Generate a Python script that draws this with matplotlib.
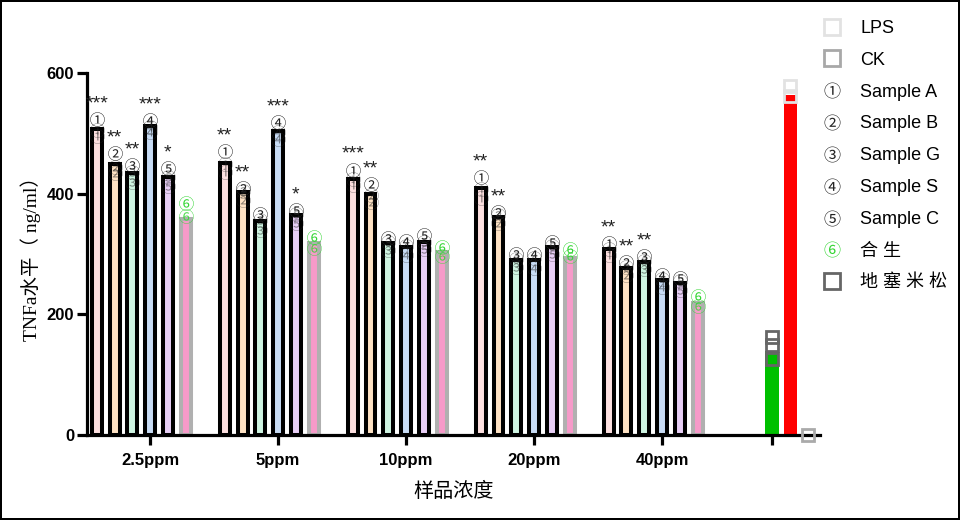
import numpy as np
import matplotlib
matplotlib.use('Agg')
import matplotlib.pyplot as plt
from matplotlib.textpath import TextPath
from matplotlib.font_manager import FontProperties
from matplotlib.path import Path
from matplotlib.lines import Line2D

# ---------------- data ----------------
groups = ['2.5ppm', '5ppm', '10ppm', '20ppm', '40ppm']
series_names = ['Sample A', 'Sample B', 'Sample G', 'Sample S', 'Sample C', '合 生']
series_glyphs = ['①', '②', '③', '④', '⑤', '⑥']

sample_a = [508, 451, 425, 409, 308]
sample_b = [449, 402, 400, 362, 276]
sample_g = [434, 354, 318, 290, 287]
sample_s = [512, 504, 311, 290, 257]
sample_c = [427, 364, 320, 311, 252]
hesheng = [358, 318, 304, 293, 218]

pts_a = [[523, 505, 496], [470, 450, 436], [440, 424, 414], [428, 408, 393], [318, 308, 298]]
pts_b = [[468, 445, 434], [410, 404, 390], [416, 397, 387], [370, 364, 351], [286, 278, 265]]
pts_g = [[447, 436, 420], [366, 357, 339], [327, 320, 307], [300, 291, 279], [296, 289, 275]]
pts_s = [[522, 511, 503], [519, 503, 491], [322, 313, 298], [300, 293, 276], [265, 259, 246]]
pts_c = [[442, 428, 412], [373, 367, 351], [331, 320, 309], [320, 313, 300], [260, 255, 240]]
pts_h = [[384, 363], [328, 310], [312, 296], [309, 296], [231, 213]]

stars = [['***', '**', '**', '***', '*', ''],
         ['**', '**', '', '***', '*', ''],
         ['***', '**', '', '', '', ''],
         ['**', '**', '', '', '', ''],
         ['**', '**', '**', '', '', '']]

dex_mean = 140
dex_pts = [163, 150, 126]
lps_mean = 564
lps_pts = [578, 562]
ck_pts = [0]

# ---------------- style ----------------
fills = ['#fde0e0', '#fee2c4', '#cff5e2', '#c8dcf5', '#e8cff6', '#f69ac9']
edges = ['black'] * 5 + ['#b0b0b0']
glyph_colors = ['#222222'] * 5 + ['#33d633']

means = [sample_a, sample_b, sample_g, sample_s, sample_c, hesheng]
pts = [pts_a, pts_b, pts_g, pts_s, pts_c, pts_h]

cjk = 'Noto Sans CJK SC'
sans = ['Liberation Sans', cjk]


def glyph_marker(ch, weight='normal'):
    fp = FontProperties(family=cjk, weight=weight)
    tp = TextPath((0, 0), ch, size=1, prop=fp)
    v = tp.vertices.copy()
    codes = tp.codes
    real = codes != Path.CLOSEPOLY
    cx = (v[real, 0].min() + v[real, 0].max()) / 2
    cy = (v[real, 1].min() + v[real, 1].max()) / 2
    v[:, 0] -= cx
    v[:, 1] -= cy
    v[~real] = 0.0
    return Path(v, codes)


markers = [glyph_marker(g, 'medium') for g in series_glyphs]

fig = plt.figure(figsize=(9.6, 5.2), dpi=100)
fig.patch.set_edgecolor('black')
fig.patch.set_linewidth(1.5)
ax = fig.add_axes([86.5 / 960, 1 - 435 / 520, (820 - 86.5) / 960, (435 - 73) / 520])

step = 0.139
bar_w = 0.078
gx = np.arange(len(groups))
for i in range(6):
    xs = gx + (i - 3) * step
    ax.bar(xs, means[i], width=bar_w, color=fills[i], edgecolor=edges[i],
           linewidth=2.9, zorder=2)
    for j in range(len(groups)):
        vals = pts[i][j]
        for k, v in enumerate(vals):
            col = glyph_colors[i]
            alpha = 1.0 if k == 0 else (0.5 if i < 5 else 0.85)
            ax.plot([xs[j]], [v], linestyle='none', marker=markers[i], ms=10.5,
                    color=col, mew=0, alpha=alpha, zorder=4, clip_on=False)
        s = stars[j][i]
        if s:
            ax.text(xs[j], max(vals) + 25, s, ha='center', va='center',
                    fontsize=14, family='Liberation Sans', color='#222222', zorder=5)

ctrl_x = 4.862
ax.bar([ctrl_x], [dex_mean], width=0.108, color='#00c000', zorder=2)
ax.bar([ctrl_x + step], [lps_mean], width=0.102, color='#ff0000', zorder=2)
ax.plot([ctrl_x] * len(dex_pts), dex_pts, linestyle='none', marker='s', ms=9,
        mfc='none', mec='#666666', mew=2, zorder=4)
ax.plot([ctrl_x + step] * len(lps_pts), lps_pts, linestyle='none', marker='s', ms=9,
        mfc='none', mec='#e2e2e2', mew=2, zorder=4)
ax.plot([ctrl_x + 2 * step] * len(ck_pts), ck_pts, linestyle='none', marker='s', ms=9,
        mfc='none', mec='#aaaaaa', mew=2, zorder=4, clip_on=False)

ax.set_xlim(-0.497, 5.234)
ax.set_ylim(0, 600)
ax.set_yticks([0, 200, 400, 600])
ax.set_xticks(list(gx) + [ctrl_x])
ax.set_xticklabels(groups + [''])
for sp in ['top', 'right']:
    ax.spines[sp].set_visible(False)
ax.spines['left'].set_linewidth(2.3)
ax.spines['bottom'].set_linewidth(2.3)
ax.tick_params(axis='both', width=2.3, length=7, pad=2)
for lab in ax.get_xticklabels() + ax.get_yticklabels():
    lab.set_fontfamily('Liberation Sans')
    lab.set_fontweight('bold')
    lab.set_fontsize(12)
ax.tick_params(axis='x', pad=6)

ax.set_ylabel('TNFa水平（ ng/ml）', family=['Liberation Serif', cjk], fontsize=14, labelpad=4)
ax.set_xlabel('样品浓度', family=cjk, fontsize=14.5, labelpad=9)

handles = [
    Line2D([], [], linestyle='none', marker='s', ms=11, mfc='none', mec='#e2e2e2', mew=2),
    Line2D([], [], linestyle='none', marker='s', ms=11, mfc='none', mec='#a8a8a8', mew=2),
]
for i in range(6):
    handles.append(Line2D([], [], linestyle='none', marker=markers[i], ms=11.5,
                          color=glyph_colors[i], mew=0))
handles.append(Line2D([], [], linestyle='none', marker='s', ms=11, mfc='none', mec='#666666', mew=2))
labels = ['LPS', 'CK'] + series_names + ['地 塞 米 松']
fig.legend(handles, labels, loc='upper left', bbox_to_anchor=(823 / 960, 1 - 20 / 520),
           frameon=False, prop={'family': sans, 'size': 13}, borderpad=0, borderaxespad=0,
           handlelength=1.0, handletextpad=1.05, labelspacing=0.82)

fig.savefig('out.png', dpi=100, facecolor='white', edgecolor='black')
